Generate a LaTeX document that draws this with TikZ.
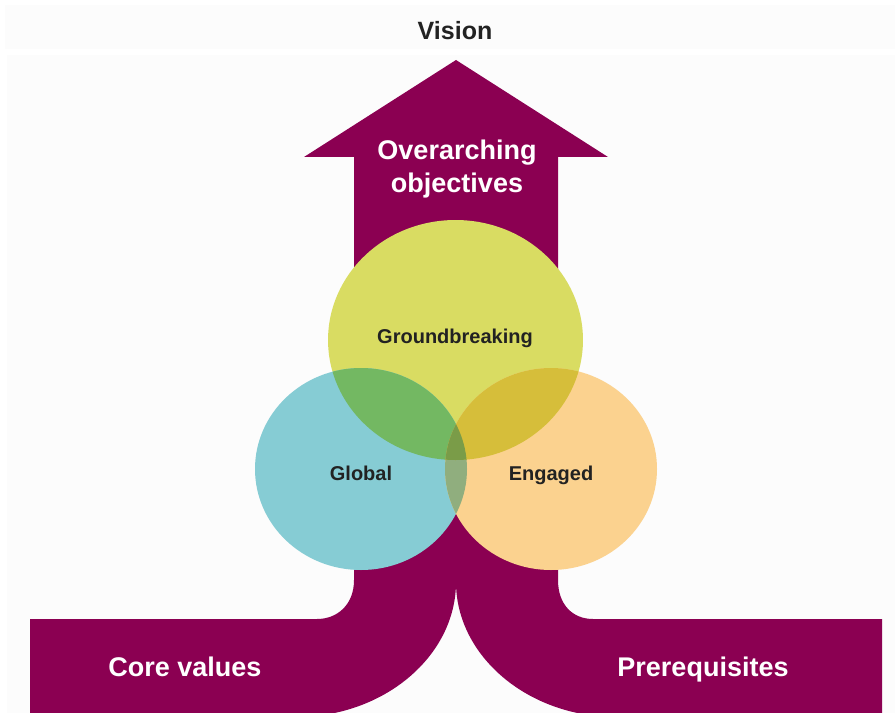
\documentclass[tikz,border=0pt]{standalone}
\usepackage{fontspec}
\setmainfont{Liberation Sans}
\definecolor{maroon}{RGB}{139,0,82}
\definecolor{paper}{RGB}{252,252,252}
\definecolor{darktext}{RGB}{34,34,34}
\definecolor{yellowgreen}{RGB}{217,220,98}
\definecolor{teal}{RGB}{134,204,212}
\definecolor{peach}{RGB}{251,210,143}
\definecolor{tealyellow}{RGB}{115,184,98}
\definecolor{yellowpeach}{RGB}{214,190,58}
\definecolor{tealpeach}{RGB}{144,174,126}
\definecolor{allthree}{RGB}{122,156,72}
\def\groundbreakingpath{(455.5,340) ellipse [x radius=95.6pt, y radius=90pt]}
\def\globalpath{(361,469) ellipse [x radius=79.5pt, y radius=75.75pt]}
\def\engagedpath{(551,469) ellipse [x radius=79.5pt, y radius=75.75pt]}
\begin{document}
\begin{tikzpicture}[x=0.75pt,y=-0.75pt,
    bandtext/.style={font=\bfseries\fontsize{20.25}{24.3}\selectfont,text=white,align=center},
    venntext/.style={font=\bfseries\fontsize{15}{18}\selectfont,text=darktext,anchor=base}]
    \useasboundingbox (0,0) rectangle (895,713);
    \fill [paper] (5,5) rectangle (895,49);
    \fill [paper] (7,55) rectangle (895,713);
    % arrow with its two roots
    \fill [maroon] (456,60) -- (608,157) -- (558,157) -- (558,580)
    .. controls (558,605) and (573,619) .. (593,619) -- (882,619) -- (882,717)
    -- (616,717) .. controls (528,717) and (456,656) .. (456,582)
    .. controls (456,656) and (384,717) .. (296,717) -- (30,717) -- (30,619)
    -- (317,619) .. controls (337,619) and (354,605) .. (354,580)
    -- (354,157) -- (304,157) -- cycle;
    % the three circles
    \fill [yellowgreen] \groundbreakingpath;
    \fill [teal] \globalpath;
    \fill [peach] \engagedpath;
    \begin{scope}
      \clip \globalpath;
      \fill [tealyellow] \groundbreakingpath;
      \fill [tealpeach] \engagedpath;
    \end{scope}
    \begin{scope}
      \clip \groundbreakingpath;
      \fill [yellowpeach] \engagedpath;
      \clip \globalpath;
      \fill [allthree] \engagedpath;
    \end{scope}
    \node [font=\bfseries\fontsize{18.75}{22}\selectfont,text=darktext,anchor=base] (vision) at (455,40) {Vision};
    \node [bandtext] (objectives) at (457,169) {Overarching\\objectives};
    \node [venntext] (groundbreaking) at (455,343) {Groundbreaking};
    \node [venntext] (global) at (361,480) {Global};
    \node [venntext] (engaged) at (551,480) {Engaged};
    \node [bandtext,anchor=base] (corevalues) at (185,676) {Core values};
    \node [bandtext,anchor=base] (prerequisites) at (703,676) {Prerequisites};
\end{tikzpicture}
\end{document}
